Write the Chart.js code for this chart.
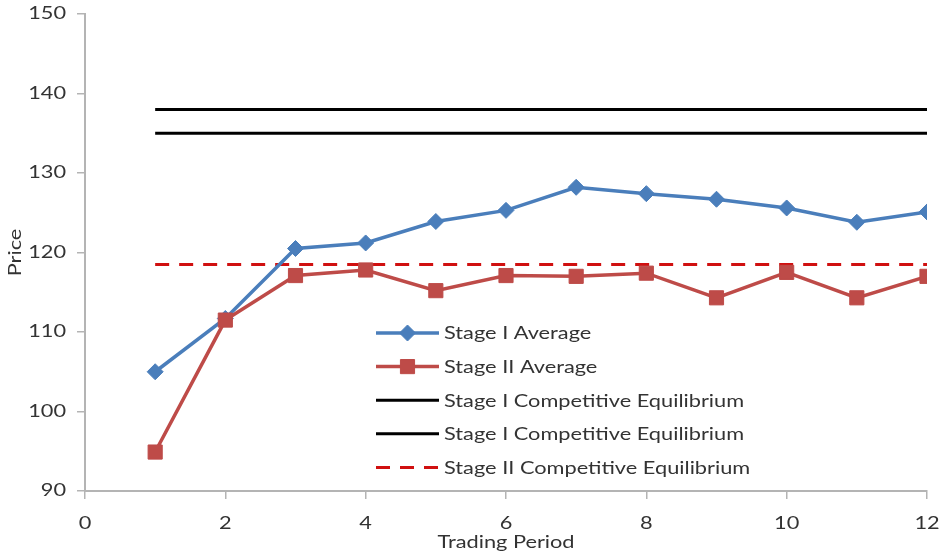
<!DOCTYPE html>
<html><head><meta charset="utf-8">
<script src="https://cdn.jsdelivr.net/npm/chart.js@4.4.0/dist/chart.umd.min.js"></script>
<style>html,body{margin:0;padding:0;background:#fff}#wrap{width:942px;height:556px}</style>
</head><body><div id="wrap"><canvas id="c" width="942" height="556"></canvas></div>
<script>
const periods = [1, 2, 3, 4, 5, 6, 7, 8, 9, 10, 11, 12];
const stage1Avg = [105.0, 111.7, 120.5, 121.2, 123.9, 125.3, 128.2, 127.4, 126.7, 125.6, 123.8, 125.1];
const stage2Avg = [94.9, 111.5, 117.1, 117.8, 115.2, 117.1, 117.0, 117.4, 114.3, 117.5, 114.3, 117.0];
const stage1EqHigh = [138, 138, 138, 138, 138, 138, 138, 138, 138, 138, 138, 138];
const stage1EqLow = [135, 135, 135, 135, 135, 135, 135, 135, 135, 135, 135, 135];
const stage2Eq = [118.5, 118.5, 118.5, 118.5, 118.5, 118.5, 118.5, 118.5, 118.5, 118.5, 118.5, 118.5];
const seriesLabels = ['Stage I Average', 'Stage II Average', 'Stage I Competitive Equilibrium', 'Stage I Competitive Equilibrium', 'Stage II Competitive Equilibrium'];
const xTickValues = [0, 2, 4, 6, 8, 10, 12];
const yTickValues = [90, 100, 110, 120, 130, 140, 150];
const xTitle = 'Trading Period';
const yTitle = 'Price';

const pts = arr => periods.map((p, i) => ({x: p, y: arr[i]}));
const FONT = 'Lato, "Open Sans", sans-serif';
const AXIS = '#b4b4b4';
const TEXT = '#333333';
const TEXT_STRETCH = 1.28;

// the reference text is horizontally stretched; widen every drawn string a little
const stretchPlugin = {
  id: 'stretchText',
  beforeInit(chart) {
    const ctx = chart.ctx;
    const orig = ctx.fillText.bind(ctx);
    ctx.fillText = function (text, x, y) {
      ctx.save();
      ctx.translate(x, y);
      ctx.scale(TEXT_STRETCH, 1);
      orig(text, 0, 0);
      ctx.restore();
    };
  }
};

const legendPlugin = {
  id: 'insideLegend',
  afterDraw(chart) {
    const ctx = chart.ctx;
    const x0 = 376, x1 = 439, tx = 444, y0 = 333, step = 33.6;
    ctx.save();
    ctx.font = '17px ' + FONT;
    ctx.textBaseline = 'middle';
    ctx.textAlign = 'left';
    chart.data.datasets.forEach((ds, i) => {
      const y = y0 + i * step;
      ctx.save();
      ctx.strokeStyle = ds.borderColor;
      ctx.lineWidth = ds.borderWidth;
      ctx.setLineDash(ds.borderDash || []);
      ctx.beginPath(); ctx.moveTo(x0, y); ctx.lineTo(x1, y); ctx.stroke();
      ctx.restore();
      if (ds.pointRadius > 0) {
        ctx.save();
        ctx.fillStyle = ds.pointBackgroundColor;
        ctx.strokeStyle = ds.pointBorderColor;
        Chart.helpers.drawPoint(ctx, {pointStyle: ds.pointStyle, radius: ds.pointRadius, rotation: 0, borderWidth: 1}, (x0 + x1) / 2, y);
        ctx.restore();
      }
      ctx.fillStyle = TEXT;
      ctx.fillText(ds.label, tx, y + 1);
    });
    ctx.restore();
  }
};

const lineDs = (label, data, color, width, dash, order) => ({
  label, data: pts(data), borderColor: color, backgroundColor: color, borderWidth: width,
  borderDash: dash, pointRadius: 0, pointHoverRadius: 0, order, tension: 0, fill: false
});

new Chart(document.getElementById('c'), {
  type: 'line',
  data: {
    datasets: [
      {label: seriesLabels[0], data: pts(stage1Avg), borderColor: '#4a7ebb', borderWidth: 3.5,
       pointStyle: 'rectRot', pointRadius: 8, pointBackgroundColor: '#4a7ebb', pointBorderColor: '#4a7ebb',
       pointBorderWidth: 1, order: 1, tension: 0, fill: false},
      {label: seriesLabels[1], data: pts(stage2Avg), borderColor: '#be4b48', borderWidth: 3.5,
       pointStyle: 'rect', pointRadius: 10, pointBackgroundColor: '#be4b48', pointBorderColor: '#be4b48',
       pointBorderWidth: 1, order: 0, tension: 0, fill: false},
      lineDs(seriesLabels[2], stage1EqHigh, '#000000', 3, [], 2),
      lineDs(seriesLabels[3], stage1EqLow, '#000000', 3, [], 3),
      lineDs(seriesLabels[4], stage2Eq, '#d01010', 3, [14, 10], 4)
    ]
  },
  options: {
    responsive: false,
    devicePixelRatio: 1,
    animation: false,
    layout: {autoPadding: false, padding: {top: 14, right: 15, bottom: 0, left: 0}},
    plugins: {legend: {display: false}, tooltip: {enabled: false}},
    scales: {
      x: {
        type: 'linear', min: 0, max: 12,
        afterBuildTicks: s => { s.ticks = xTickValues.map(v => ({value: v})); },
        afterFit: s => { s.height = 65; s.paddingLeft = 0; s.paddingRight = 0; },
        grid: {drawOnChartArea: false, drawTicks: true, tickLength: 8, color: AXIS, lineWidth: 1.5},
        border: {color: AXIS, width: 2},
        ticks: {font: {family: FONT, size: 17}, color: TEXT, padding: 14, maxRotation: 0},
        title: {display: true, text: xTitle, font: {family: FONT, size: 17}, color: TEXT, padding: {top: 0, bottom: 3}}
      },
      y: {
        type: 'linear', min: 90, max: 150,
        afterBuildTicks: s => { s.ticks = yTickValues.map(v => ({value: v})); },
        afterFit: s => { s.width = 85; s.paddingTop = 0; s.paddingBottom = 0; },
        grid: {drawOnChartArea: false, drawTicks: true, tickLength: 8, color: AXIS, lineWidth: 1.5},
        border: {color: AXIS, width: 2},
        ticks: {font: {family: FONT, size: 17}, color: TEXT, padding: 11},
        title: {display: true, text: yTitle, font: {family: FONT, size: 17}, color: TEXT, padding: {top: 5, bottom: 0}}
      }
    }
  },
  plugins: [stretchPlugin, legendPlugin]
});
</script>
</body></html>
